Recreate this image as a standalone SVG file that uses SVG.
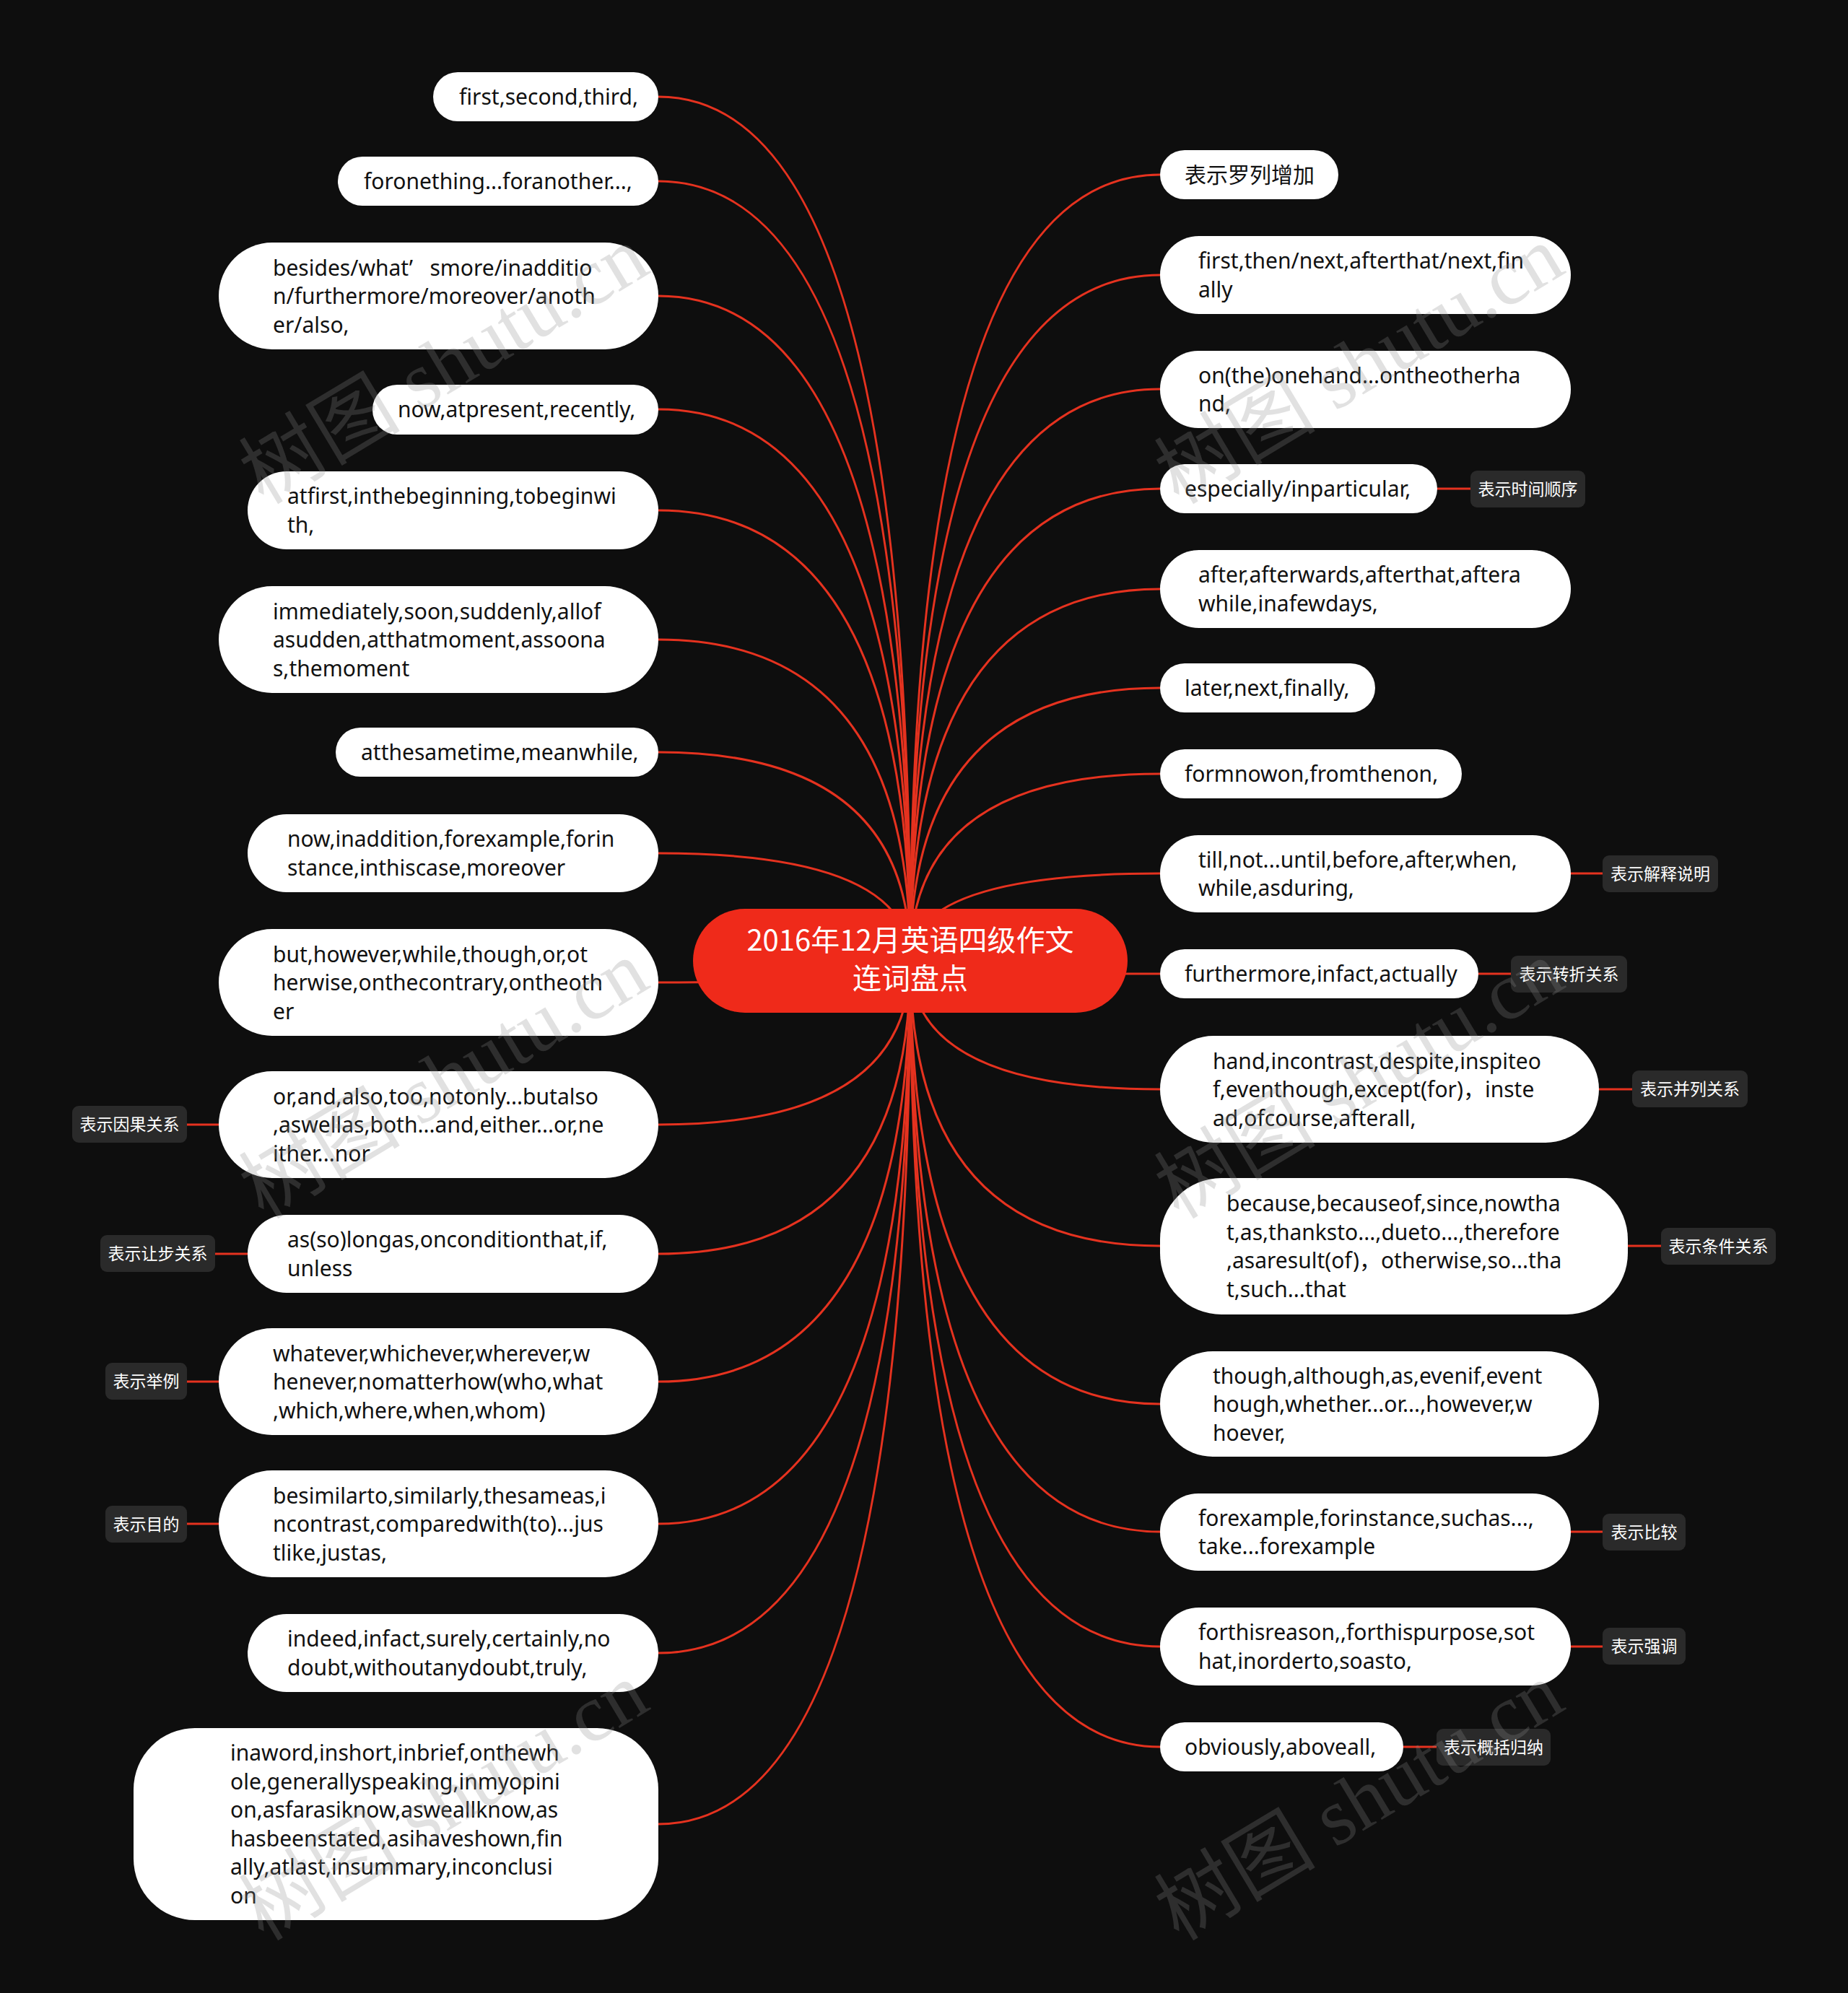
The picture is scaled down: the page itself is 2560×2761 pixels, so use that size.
<svg xmlns="http://www.w3.org/2000/svg" width="2560" height="2761" viewBox="0 0 2560 2761">
<style>
.bg{fill:#0e0e0e}
.c{fill:none;stroke:#e5321f;stroke-width:3}
.n{fill:#ffffff}
.t{font-family:"Noto Sans","Noto Sans CJK SC",sans-serif;font-size:30px;fill:#111111}
.tag{fill:#2a2a2a}
.tt{font-family:"Noto Sans CJK SC","Noto Sans",sans-serif;font-size:23px;fill:#ffffff;text-anchor:middle}
.root{fill:#ef2a1a}
.rt{font-family:"Noto Sans CJK SC","Noto Sans",sans-serif;font-size:40px;fill:#ffffff;text-anchor:middle}
.wm{font-family:"Liberation Serif","Noto Sans CJK SC",serif;font-size:112px;fill:#8a8a8a;fill-opacity:0.26}
</style>
<rect class="bg" x="0" y="0" width="2560" height="2761"/>
<g id="connectors">
<path class="c" d="M1261 1331 Q1261 134 912 134"/>
<path class="c" d="M1261 1331 Q1261 251 912 251"/>
<path class="c" d="M1261 1331 Q1261 410 912 410"/>
<path class="c" d="M1261 1331 Q1261 567 912 567"/>
<path class="c" d="M1261 1331 Q1261 707 912 707"/>
<path class="c" d="M1261 1331 Q1261 886 912 886"/>
<path class="c" d="M1261 1331 Q1261 1042 912 1042"/>
<path class="c" d="M1261 1331 Q1261 1182 912 1182"/>
<path class="c" d="M1261 1331 Q1261 1361 912 1361"/>
<path class="c" d="M1261 1331 Q1261 1558 912 1558"/>
<path class="c" d="M1261 1331 Q1261 1737 912 1737"/>
<path class="c" d="M1261 1331 Q1261 1914 912 1914"/>
<path class="c" d="M1261 1331 Q1261 2111 912 2111"/>
<path class="c" d="M1261 1331 Q1261 2290 912 2290"/>
<path class="c" d="M1261 1331 Q1261 2527 912 2527"/>
<path class="c" d="M1261 1331 Q1261 242 1607 242"/>
<path class="c" d="M1261 1331 Q1261 381 1607 381"/>
<path class="c" d="M1261 1331 Q1261 539 1607 539"/>
<path class="c" d="M1261 1331 Q1261 677 1607 677"/>
<path class="c" d="M1261 1331 Q1261 816 1607 816"/>
<path class="c" d="M1261 1331 Q1261 953 1607 953"/>
<path class="c" d="M1261 1331 Q1261 1072 1607 1072"/>
<path class="c" d="M1261 1331 Q1261 1210 1607 1210"/>
<path class="c" d="M1261 1331 Q1261 1349 1607 1349"/>
<path class="c" d="M1261 1331 Q1261 1509 1607 1509"/>
<path class="c" d="M1261 1331 Q1261 1726 1607 1726"/>
<path class="c" d="M1261 1331 Q1261 1945 1607 1945"/>
<path class="c" d="M1261 1331 Q1261 2122 1607 2122"/>
<path class="c" d="M1261 1331 Q1261 2281 1607 2281"/>
<path class="c" d="M1261 1331 Q1261 2420 1607 2420"/>
<path class="c" d="M1991 677 H2037"/>
<path class="c" d="M2176 1210 H2220"/>
<path class="c" d="M2048 1349 H2093"/>
<path class="c" d="M2215 1509 H2261"/>
<path class="c" d="M2255 1726 H2301"/>
<path class="c" d="M2176 2122 H2220"/>
<path class="c" d="M2176 2281 H2220"/>
<path class="c" d="M1944 2420 H1990"/>
<path class="c" d="M303 1558 H259"/>
<path class="c" d="M343 1737 H298"/>
<path class="c" d="M303 1914 H259"/>
<path class="c" d="M303 2111 H259"/>
</g>
<g id="root">
<rect class="root" x="960" y="1259" width="602" height="144" rx="72"/>
<text class="rt" x="1261" y="1317">2016年12月英语四级作文</text>
<text class="rt" x="1261" y="1370">连词盘点</text>
</g>
<g id="L1"><rect class="n" x="600" y="100" width="312" height="68" rx="34"/><text class="t" x="636" y="145">first,second,third,</text></g>
<g id="L2"><rect class="n" x="468" y="217" width="444" height="68" rx="34"/><text class="t" x="504" y="262">foronething...foranother...,</text></g>
<g id="L3"><rect class="n" x="303" y="336" width="609" height="148" rx="74"/><text class="t" x="378" y="381.5" xml:space="preserve">besides/what’   smore/inadditio</text><text class="t" x="378" y="421">n/furthermore/moreover/anoth</text><text class="t" x="378" y="460.5">er/also,</text></g>
<g id="L4"><rect class="n" x="516" y="533" width="396" height="69" rx="34"/><text class="t" x="551" y="578">now,atpresent,recently,</text></g>
<g id="L5"><rect class="n" x="343" y="653" width="569" height="108" rx="54"/><text class="t" x="398" y="698">atfirst,inthebeginning,tobeginwi</text><text class="t" x="398" y="738">th,</text></g>
<g id="L6"><rect class="n" x="303" y="812" width="609" height="148" rx="74"/><text class="t" x="378" y="857.5">immediately,soon,suddenly,allof</text><text class="t" x="378" y="897">asudden,atthatmoment,assoona</text><text class="t" x="378" y="936.5">s,themoment</text></g>
<g id="L7"><rect class="n" x="465" y="1008" width="447" height="68" rx="34"/><text class="t" x="500" y="1053">atthesametime,meanwhile,</text></g>
<g id="L8"><rect class="n" x="343" y="1128" width="569" height="108" rx="54"/><text class="t" x="398" y="1173">now,inaddition,forexample,forin</text><text class="t" x="398" y="1213">stance,inthiscase,moreover</text></g>
<g id="L9"><rect class="n" x="303" y="1287" width="609" height="148" rx="74"/><text class="t" x="378" y="1332.5">but,however,while,though,or,ot</text><text class="t" x="378" y="1372">herwise,onthecontrary,ontheoth</text><text class="t" x="378" y="1411.5">er</text></g>
<g id="L10"><rect class="n" x="303" y="1484" width="609" height="148" rx="74"/><text class="t" x="378" y="1529.5">or,and,also,too,notonly...butalso</text><text class="t" x="378" y="1569">,aswellas,both...and,either...or,ne</text><text class="t" x="378" y="1608.5">ither...nor</text></g>
<g id="L10tag"><rect class="tag" x="100" y="1532" width="159" height="51" rx="9"/><text class="tt" x="179.5" y="1566">表示因果关系</text></g>
<g id="L11"><rect class="n" x="343" y="1683" width="569" height="108" rx="54"/><text class="t" x="398" y="1728">as(so)longas,onconditionthat,if,</text><text class="t" x="398" y="1767.5">unless</text></g>
<g id="L11tag"><rect class="tag" x="139" y="1711" width="159" height="51" rx="9"/><text class="tt" x="218.5" y="1745">表示让步关系</text></g>
<g id="L12"><rect class="n" x="303" y="1840" width="609" height="148" rx="74"/><text class="t" x="378" y="1885.5">whatever,whichever,wherever,w</text><text class="t" x="378" y="1925">henever,nomatterhow(who,what</text><text class="t" x="378" y="1964.5">,which,where,when,whom)</text></g>
<g id="L12tag"><rect class="tag" x="146" y="1888" width="113" height="51" rx="9"/><text class="tt" x="202.5" y="1922">表示举例</text></g>
<g id="L13"><rect class="n" x="303" y="2037" width="609" height="148" rx="74"/><text class="t" x="378" y="2082.5">besimilarto,similarly,thesameas,i</text><text class="t" x="378" y="2122">ncontrast,comparedwith(to)...jus</text><text class="t" x="378" y="2161.5">tlike,justas,</text></g>
<g id="L13tag"><rect class="tag" x="146" y="2086" width="113" height="51" rx="9"/><text class="tt" x="202.5" y="2120">表示目的</text></g>
<g id="L14"><rect class="n" x="343" y="2236" width="569" height="108" rx="54"/><text class="t" x="398" y="2281">indeed,infact,surely,certainly,no</text><text class="t" x="398" y="2320.5">doubt,withoutanydoubt,truly,</text></g>
<g id="L15"><rect class="n" x="185" y="2394" width="727" height="266" rx="85"/><text class="t" x="319" y="2439">inaword,inshort,inbrief,onthewh</text><text class="t" x="319" y="2478.5">ole,generallyspeaking,inmyopini</text><text class="t" x="319" y="2518">on,asfarasiknow,asweallknow,as</text><text class="t" x="319" y="2557.5">hasbeenstated,asihaveshown,fin</text><text class="t" x="319" y="2597">ally,atlast,insummary,inconclusi</text><text class="t" x="319" y="2636.5">on</text></g>
<g id="R1"><rect class="n" x="1607" y="208" width="247" height="68" rx="34"/><text class="t" x="1641" y="253">表示罗列增加</text></g>
<g id="R2"><rect class="n" x="1607" y="327" width="569" height="108" rx="54"/><text class="t" x="1660" y="372">first,then/next,afterthat/next,fin</text><text class="t" x="1660" y="412">ally</text></g>
<g id="R3"><rect class="n" x="1607" y="486" width="569" height="107" rx="53"/><text class="t" x="1660" y="531">on(the)onehand...ontheotherha</text><text class="t" x="1660" y="570">nd,</text></g>
<g id="R4"><rect class="n" x="1607" y="643" width="384" height="68" rx="34"/><text class="t" x="1641" y="688">especially/inparticular,</text></g>
<g id="R4tag"><rect class="tag" x="2037" y="652" width="159" height="51" rx="9"/><text class="tt" x="2116.5" y="686">表示时间顺序</text></g>
<g id="R5"><rect class="n" x="1607" y="762" width="569" height="108" rx="54"/><text class="t" x="1660" y="807">after,afterwards,afterthat,aftera</text><text class="t" x="1660" y="847">while,inafewdays,</text></g>
<g id="R6"><rect class="n" x="1607" y="919" width="298" height="68" rx="34"/><text class="t" x="1641" y="964">later,next,finally,</text></g>
<g id="R7"><rect class="n" x="1607" y="1038" width="418" height="68" rx="34"/><text class="t" x="1641" y="1083">formnowon,fromthenon,</text></g>
<g id="R8"><rect class="n" x="1607" y="1157" width="569" height="107" rx="53"/><text class="t" x="1660" y="1202">till,not...until,before,after,when,</text><text class="t" x="1660" y="1241">while,asduring,</text></g>
<g id="R8tag"><rect class="tag" x="2220" y="1185" width="160" height="51" rx="9"/><text class="tt" x="2300" y="1219">表示解释说明</text></g>
<g id="R9"><rect class="n" x="1607" y="1315" width="441" height="68" rx="34"/><text class="t" x="1641" y="1360">furthermore,infact,actually</text></g>
<g id="R9tag"><rect class="tag" x="2093" y="1324" width="161" height="51" rx="9"/><text class="tt" x="2173.5" y="1358">表示转折关系</text></g>
<g id="R10"><rect class="n" x="1607" y="1435" width="608" height="148" rx="74"/><text class="t" x="1680" y="1480.5">hand,incontrast,despite,inspiteo</text><text class="t" x="1680" y="1520">f,eventhough,except(for)，inste</text><text class="t" x="1680" y="1559.5">ad,ofcourse,afterall,</text></g>
<g id="R10tag"><rect class="tag" x="2261" y="1483" width="160" height="51" rx="9"/><text class="tt" x="2341" y="1517">表示并列关系</text></g>
<g id="R11"><rect class="n" x="1607" y="1632" width="648" height="189" rx="85"/><text class="t" x="1699" y="1678">because,becauseof,since,nowtha</text><text class="t" x="1699" y="1717.5">t,as,thanksto...,dueto...,therefore</text><text class="t" x="1699" y="1757">,asaresult(of)，otherwise,so...tha</text><text class="t" x="1699" y="1796.5">t,such...that</text></g>
<g id="R11tag"><rect class="tag" x="2301" y="1701" width="159" height="51" rx="9"/><text class="tt" x="2380.5" y="1735">表示条件关系</text></g>
<g id="R12"><rect class="n" x="1607" y="1872" width="608" height="146" rx="73"/><text class="t" x="1680" y="1916.5">though,although,as,evenif,event</text><text class="t" x="1680" y="1956">hough,whether...or...,however,w</text><text class="t" x="1680" y="1995.5">hoever,</text></g>
<g id="R13"><rect class="n" x="1607" y="2069" width="569" height="107" rx="53"/><text class="t" x="1660" y="2114">forexample,forinstance,suchas...,</text><text class="t" x="1660" y="2153">take...forexample</text></g>
<g id="R13tag"><rect class="tag" x="2220" y="2097" width="115" height="51" rx="9"/><text class="tt" x="2277.5" y="2131">表示比较</text></g>
<g id="R14"><rect class="n" x="1607" y="2227" width="569" height="108" rx="54"/><text class="t" x="1660" y="2272">forthisreason,,forthispurpose,sot</text><text class="t" x="1660" y="2312">hat,inorderto,soasto,</text></g>
<g id="R14tag"><rect class="tag" x="2220" y="2255" width="115" height="51" rx="9"/><text class="tt" x="2277.5" y="2289">表示强调</text></g>
<g id="R15"><rect class="n" x="1607" y="2386" width="337" height="68" rx="34"/><text class="t" x="1641" y="2431">obviously,aboveall,</text></g>
<g id="R15tag"><rect class="tag" x="1990" y="2395" width="158" height="51" rx="9"/><text class="tt" x="2069" y="2429">表示概括归纳</text></g>
<g id="watermark">
<text class="wm" transform="translate(365 700) rotate(-31)">树图 shutu.cn</text>
<text class="wm" transform="translate(1633 700) rotate(-31)">树图 shutu.cn</text>
<text class="wm" transform="translate(365 1690) rotate(-31)">树图 shutu.cn</text>
<text class="wm" transform="translate(1633 1690) rotate(-31)">树图 shutu.cn</text>
<text class="wm" transform="translate(365 2690) rotate(-31)">树图 shutu.cn</text>
<text class="wm" transform="translate(1633 2690) rotate(-31)">树图 shutu.cn</text>
</g>
</svg>
